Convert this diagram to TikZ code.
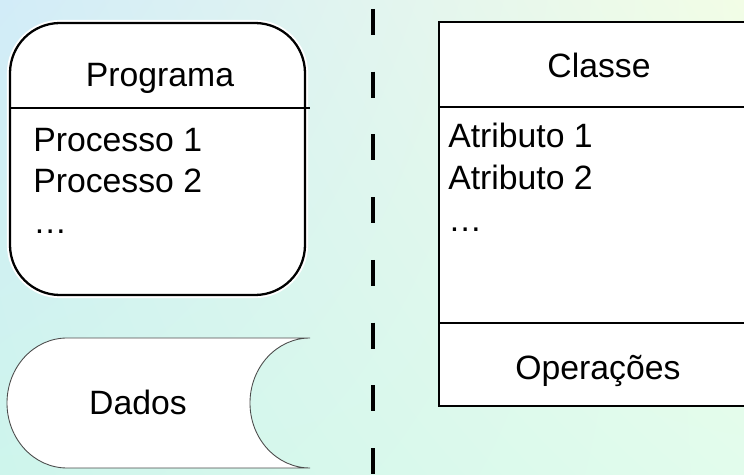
\documentclass[tikz,border=0pt]{standalone}
\usepackage{fontspec}
\setmainfont{Liberation Sans}
\usetikzlibrary{positioning,calc,shadings}
\definecolor{bgblue}{RGB}{210,236,248}
\definecolor{bgcyan}{RGB}{206,245,236}
\definecolor{bgmint}{RGB}{226,252,236}
\definecolor{bgyellow}{RGB}{242,253,230}

\begin{document}
\begin{tikzpicture}[
    txt/.style={inner sep=0pt, font=\fontsize{19.2}{22}\selectfont},
    prog/.style={rectangle, draw, line width=1.3pt, rounded corners=1cm, fill=white,
        minimum width=5.9cm, minimum height=5.44cm,
        preaction={draw=white, line width=3.5pt}},
    classbox/.style={rectangle, draw, line width=1.1pt, fill=white, minimum width=6.4cm, minimum height=7.68cm},
    sep/.style={line width=1.1pt},
    divider/.style={line width=2.5pt, dash pattern=on 14.7pt off 21pt}
]
    \useasboundingbox (0,0) rectangle (14.88,-9.5);
    % background
    \shade[upper left=bgblue, upper right=bgyellow, lower left=bgcyan, lower right=bgmint] (0,0) rectangle (14.88,-9.5);

    % procedural side
    \node[prog] (programa) at (3.15,-3.18) {};
    \draw[line width=1.3pt] (0.2,-2.16) -- (6.2,-2.16);
    \node[txt, anchor=base] (ptitle) at (3.2,-1.74) {Programa};
    \node[txt, anchor=base west] (p1) at (0.66,-3.04) {Processo 1};
    \node[txt, anchor=base west] (p2) at (0.66,-3.86) {Processo 2};
    \node[txt, anchor=base west] (p3) at (0.66,-4.68) {\dots};

    \draw[fill=white, draw=black!70, line width=0.5pt]
        (1.34,-6.76) -- (6.2,-6.76)
        arc[start angle=90, end angle=270, x radius=1.2, y radius=1.3]
        -- (1.34,-9.36)
        arc[start angle=270, end angle=90, x radius=1.2, y radius=1.3] -- cycle;
    \node[txt, anchor=base] (dados) at (2.76,-8.3) {Dados};

    % separator
    \coordinate (septop) at (7.46,-0.18);
    \coordinate (sepbot) at (7.46,-9.6);
    \draw[divider] (septop) -- (sepbot);

    % object side
    \node[classbox] (classe) at (11.98,-4.28) {};
    \draw[sep] (8.78,-2.14) -- (15.18,-2.14);
    \draw[sep] (8.78,-6.46) -- (15.18,-6.46);
    \node[txt, anchor=base] (ctitle) at (11.98,-1.56) {Classe};
    \node[txt, anchor=base west] (a1) at (8.96,-2.96) {Atributo 1};
    \node[txt, anchor=base west] (a2) at (8.96,-3.80) {Atributo 2};
    \node[txt, anchor=base west] (a3) at (8.96,-4.64) {\dots};
    \node[txt, anchor=base] (ops) at (11.96,-7.6) {Operações};
\end{tikzpicture}
\end{document}
